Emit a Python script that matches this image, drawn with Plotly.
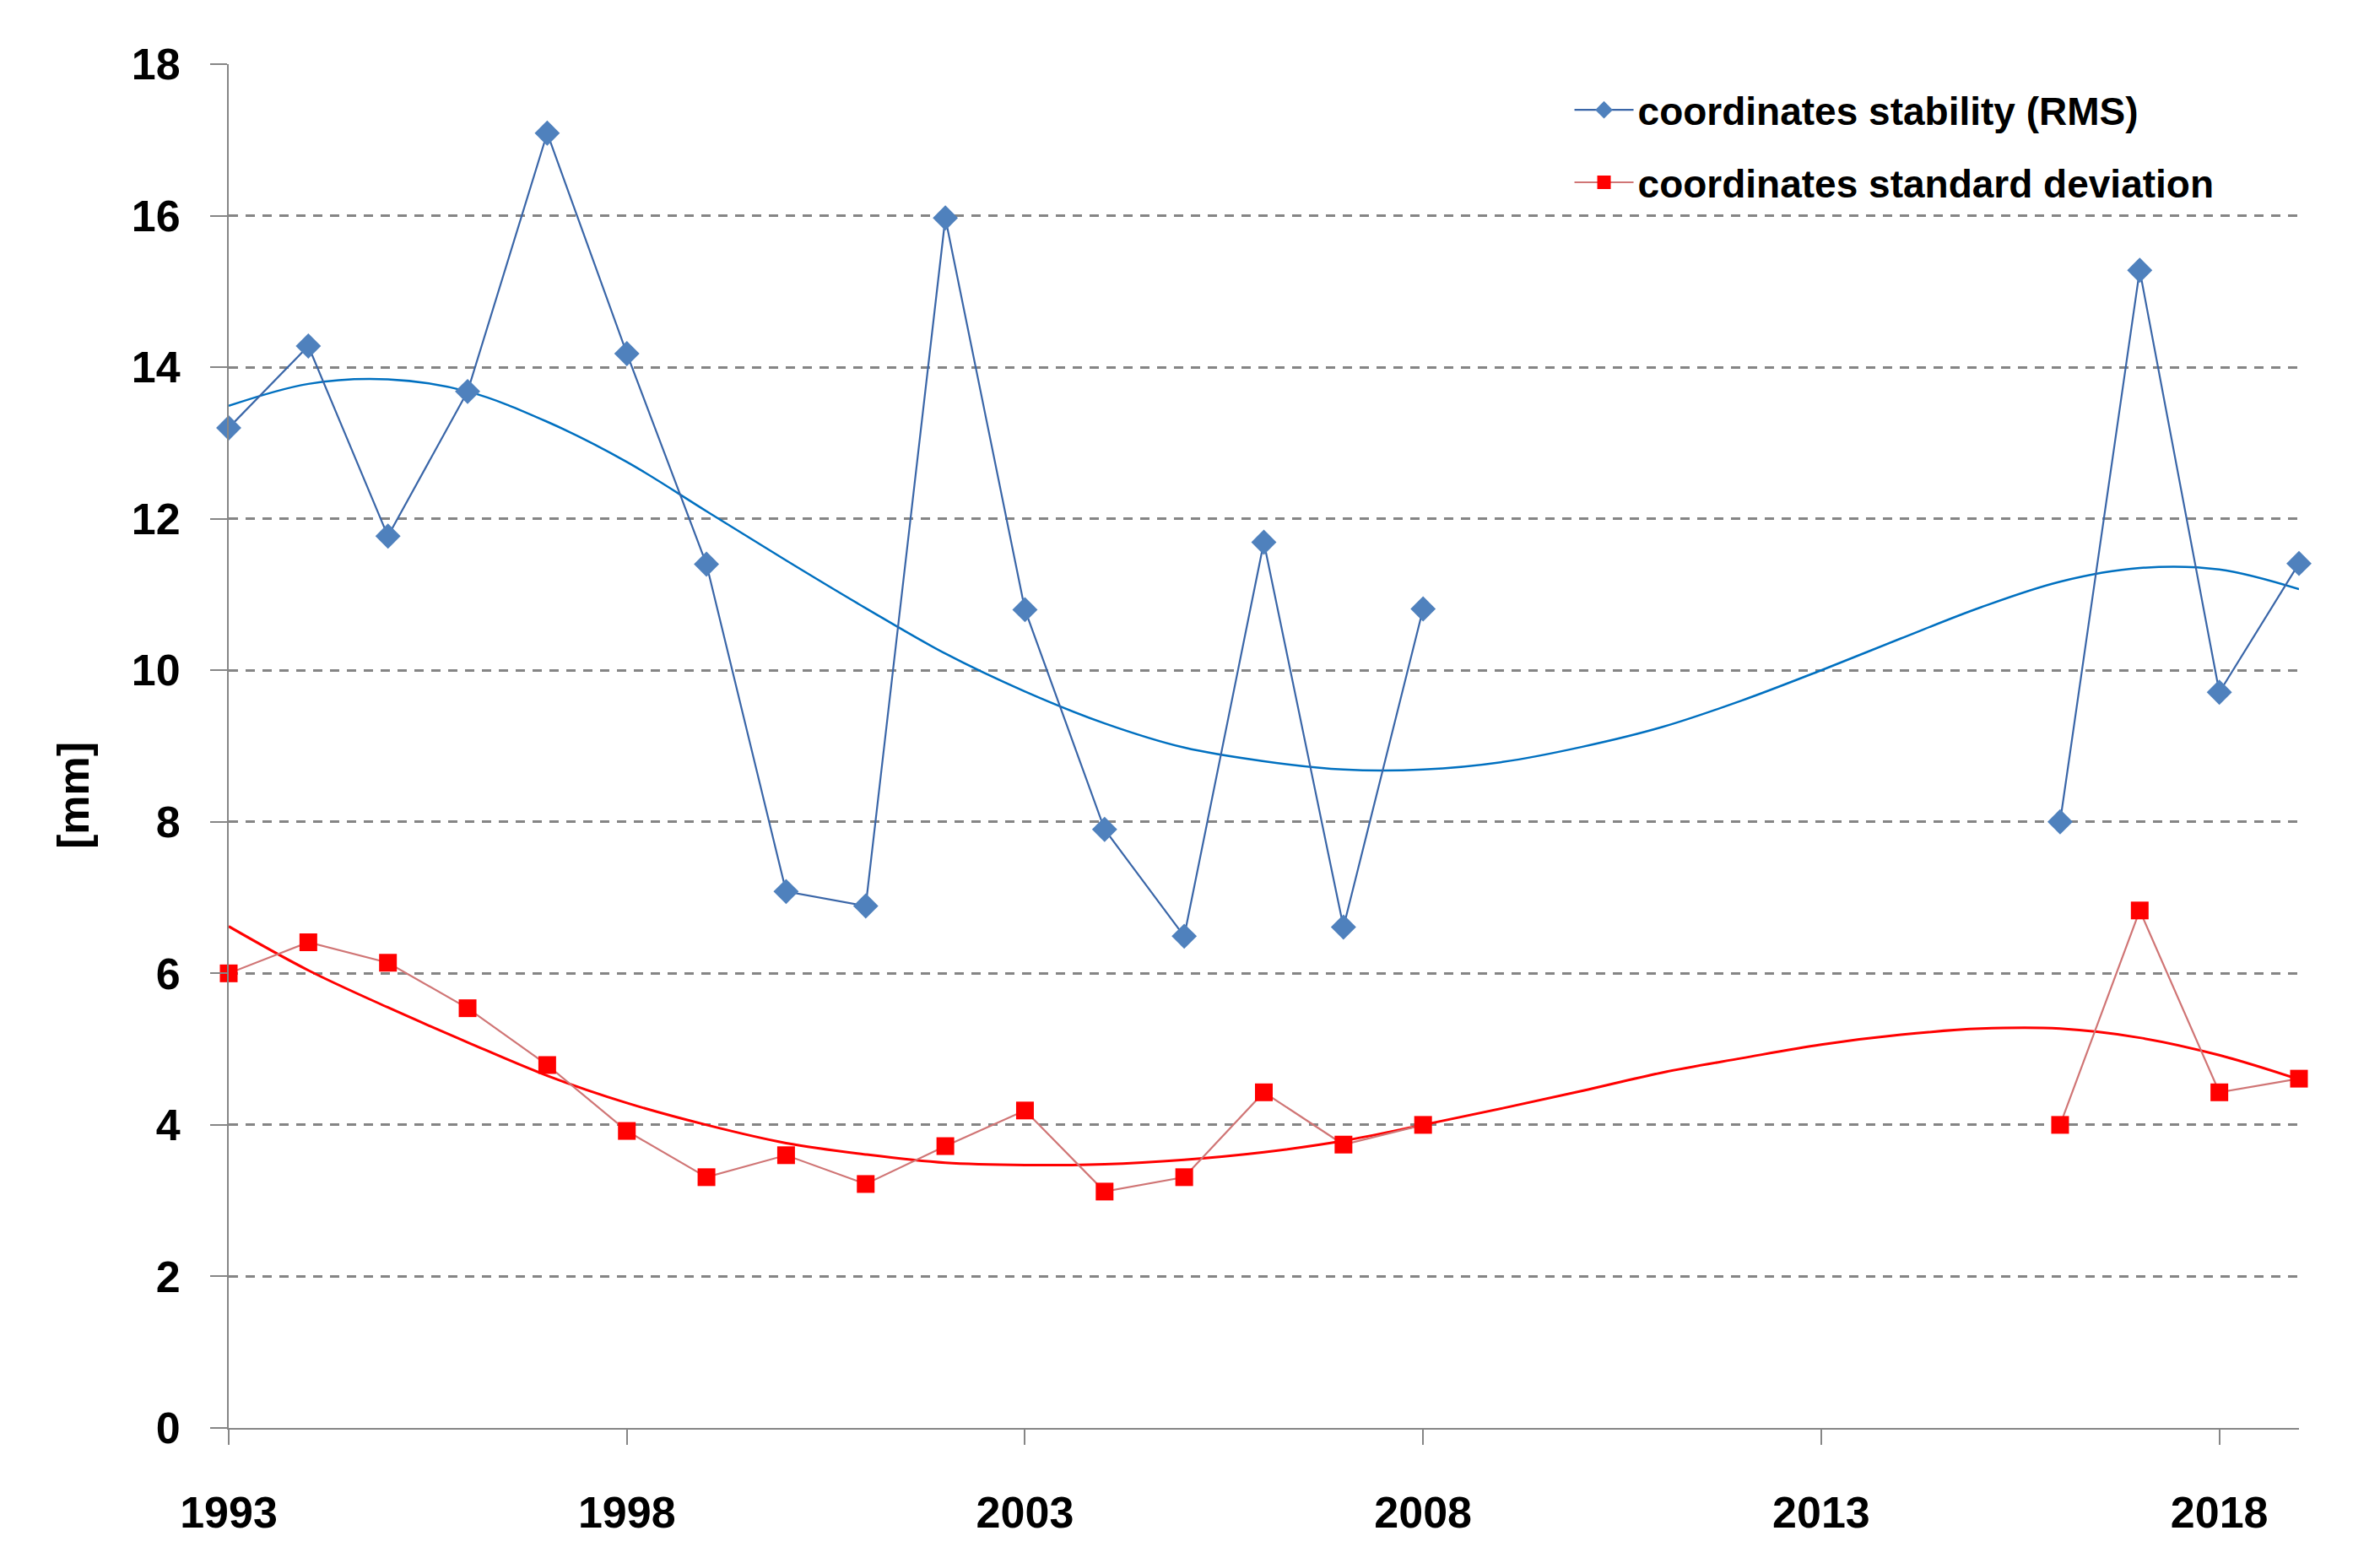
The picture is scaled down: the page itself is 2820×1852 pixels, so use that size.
import plotly.graph_objects as go

years = list(range(1993, 2020))

rms = [13.2, 14.28, 11.77, 13.68, 17.09, 14.18, 11.4, 7.08, 6.89, 15.97, 10.8, 7.9, 6.49, 11.69, 6.61, 10.81,
       None, None, None, None, None, None, None,
       8.0, 15.28, 9.71, 11.41]

std = [6.0, 6.41, 6.14, 5.54, 4.79, 3.92, 3.31, 3.6, 3.22, 3.72, 4.19, 3.12, 3.31, 4.43, 3.74, 4.0,
       None, None, None, None, None, None, None,
       4.0, 6.83, 4.43, 4.61]

rms_trend = [13.49, 13.78, 13.84, 13.68, 13.28, 12.75, 12.1, 11.45, 10.82, 10.22, 9.72, 9.3, 8.98, 8.8,
             8.69, 8.69, 8.79, 8.99, 9.25, 9.6, 10.0, 10.42, 10.83, 11.17, 11.35, 11.33, 11.07]

std_trend = [6.62, 6.04, 5.55, 5.09, 4.65, 4.29, 4.0, 3.76, 3.61, 3.5, 3.47, 3.48, 3.54, 3.64, 3.79, 4.0,
             4.22, 4.45, 4.69, 4.88, 5.06, 5.19, 5.27, 5.27, 5.15, 4.92, 4.6]

x_ticks = [1993, 1998, 2003, 2008, 2013, 2018]
y_ticks = [0, 2, 4, 6, 8, 10, 12, 14, 16, 18]

names = ["coordinates stability (RMS)", "coordinates standard deviation"]
y_title = "[mm]"

GRID = "#858585"
AXIS = "#868686"
TICKFONT = dict(family="Liberation Sans, Arial, sans-serif", size=52, color="#000000", weight=700)
LEGFONT = dict(family="Liberation Sans, Arial, sans-serif", size=46, color="#000000", weight=700)

fig = go.Figure()

fig.add_trace(go.Scatter(
    x=years, y=rms_trend, mode="lines", line=dict(color="#0070C0", width=2.5, shape="spline"),
    showlegend=False, hoverinfo="skip", cliponaxis=False))
fig.add_trace(go.Scatter(
    x=years, y=std_trend, mode="lines", line=dict(color="#FF0000", width=3, shape="spline"),
    showlegend=False, hoverinfo="skip", cliponaxis=False))

fig.add_trace(go.Scatter(
    x=years, y=rms, mode="lines+markers", name=names[0], connectgaps=False,
    line=dict(color="#3A66A8", width=2.2),
    marker=dict(symbol="diamond", size=23, color="#4F81BD", line=dict(width=0)),
    legendgroup="a", cliponaxis=False))
fig.add_trace(go.Scatter(
    x=years, y=std, mode="lines+markers", name=names[1], connectgaps=False,
    line=dict(color="#D07575", width=2.2),
    marker=dict(symbol="square", size=21, color="#FF0000", line=dict(width=0)),
    legendgroup="b", cliponaxis=False))

fig.update_layout(
    width=2820, height=1852, autosize=False,
    paper_bgcolor="white", plot_bgcolor="white",
    margin=dict(l=263, r=104, t=68, b=168, pad=0),
    showlegend=True,
    legend=dict(x=0.648, y=0.989, xanchor="left", yanchor="top", bgcolor="rgba(0,0,0,0)",
                font=LEGFONT, itemwidth=70, traceorder="grouped", tracegroupgap=23,
                borderwidth=0),
    xaxis=dict(range=[1993, 2019], tickvals=x_ticks, ticktext=[str(v) for v in x_ticks],
               showgrid=False, zeroline=False, showline=True, linecolor=AXIS, linewidth=2,
               ticks="outside", ticklen=18, tickwidth=2, tickcolor=AXIS,
               tickfont=TICKFONT, ticklabelstandoff=36),
    yaxis=dict(range=[0, 18], tickvals=y_ticks, showgrid=True, gridcolor=GRID, gridwidth=2.5,
               griddash="11px,9px", zeroline=False, showline=True, linecolor=AXIS, linewidth=2,
               ticks="outside", ticklen=20, tickwidth=2, tickcolor=AXIS,
               tickfont=TICKFONT, ticklabelstandoff=25),
    annotations=[dict(text=y_title, xref="paper", yref="paper", x=-0.075, y=0.4635,
                      textangle=-90, showarrow=False, font=TICKFONT,
                      xanchor="center", yanchor="middle")],
)

fig.write_html("out.html")
